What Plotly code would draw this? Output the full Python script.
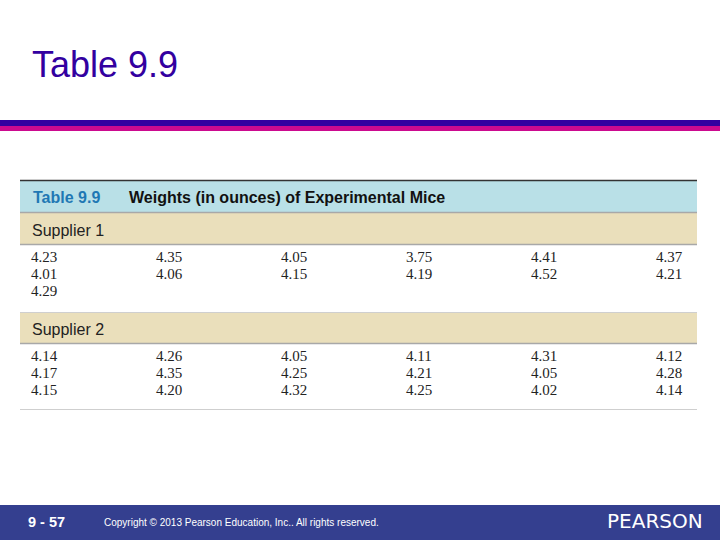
import plotly.graph_objects as go

# %%
supplier1 = [
    [4.23, 4.35, 4.05, 3.75, 4.41, 4.37],
    [4.01, 4.06, 4.15, 4.19, 4.52, 4.21],
    [4.29],
]
supplier2 = [
    [4.14, 4.26, 4.05, 4.11, 4.31, 4.12],
    [4.17, 4.35, 4.25, 4.21, 4.05, 4.28],
    [4.15, 4.20, 4.32, 4.25, 4.02, 4.14],
]
group_labels = ["Supplier 1", "Supplier 2"]
table_label = "Table 9.9"
table_caption = "Weights (in ounces) of Experimental Mice"

# %%
col_x = [31 + 125 * k for k in range(6)]
row_gap = 17


def block(rows, y0):
    xs, ys, ts = [], [], []
    for r, row in enumerate(rows):
        for c, v in enumerate(row):
            xs.append(col_x[c])
            ys.append(y0 + r * row_gap)
            ts.append(f"{v:.2f}")
    return xs, ys, ts


x1, y1, t1 = block(supplier1, 258)
x2, y2, t2 = block(supplier2, 357)

num_font = dict(family="Liberation Serif", size=15, color="#222")
fig = go.Figure()
fig.add_trace(go.Scatter(x=x1 + x2, y=y1 + y2, text=t1 + t2, mode="text",
                         textposition="middle right", textfont=num_font,
                         hoverinfo="skip", showlegend=False))

shapes = [
    # title rules
    dict(type="rect", x0=0, x1=720, y0=120, y1=126, fillcolor="#3300a0", line_width=0),
    dict(type="rect", x0=0, x1=720, y0=126, y1=131, fillcolor="#cc0a8f", line_width=0),
    # table header
    dict(type="rect", x0=20, x1=697, y0=181, y1=212, fillcolor="#b9e0e7", line_width=0),
    dict(type="rect", x0=20, x1=697, y0=213, y1=244, fillcolor="#eadfbb", line_width=0),
    dict(type="rect", x0=20, x1=697, y0=313, y1=343, fillcolor="#eadfbb", line_width=0),
    dict(type="line", x0=20, x1=697, y0=180.5, y1=180.5, line=dict(color="#333", width=1.5)),
    dict(type="line", x0=20, x1=697, y0=212.5, y1=212.5, line=dict(color="#a8a8a8", width=1.5)),
    dict(type="line", x0=20, x1=697, y0=244.5, y1=244.5, line=dict(color="#a8a8a8", width=1.5)),
    dict(type="line", x0=20, x1=697, y0=312.5, y1=312.5, line=dict(color="#cfcfcf", width=1)),
    dict(type="line", x0=20, x1=697, y0=343.5, y1=343.5, line=dict(color="#a8a8a8", width=1.5)),
    dict(type="line", x0=20, x1=697, y0=409.5, y1=409.5, line=dict(color="#cfcfcf", width=1)),
    # footer
    dict(type="rect", x0=0, x1=720, y0=505, y1=540, fillcolor="#343f8f", line_width=0),
]

ann = [
    dict(x=30, y=64, text="Table 9.9", xanchor="left", yanchor="middle",
         font=dict(family="Liberation Sans", size=36, color="#3300a0")),
    dict(x=31, y=197, text=f"<b>{table_label}</b>", xanchor="left", yanchor="middle",
         font=dict(family="Liberation Sans", size=16, color="#1f78b4")),
    dict(x=127, y=197, text=f"<b>{table_caption}</b>", xanchor="left", yanchor="middle",
         font=dict(family="Liberation Sans", size=16, color="#111")),
    dict(x=30, y=230, text=group_labels[0], xanchor="left", yanchor="middle",
         font=dict(family="Liberation Sans", size=16, color="#222")),
    dict(x=30, y=329, text=group_labels[1], xanchor="left", yanchor="middle",
         font=dict(family="Liberation Sans", size=16, color="#222")),
    dict(x=26, y=522, text="<b>9 - 57</b>", xanchor="left", yanchor="middle",
         font=dict(family="Liberation Sans", size=14.5, color="white")),
    dict(x=102, y=522, text="Copyright © 2013 Pearson Education, Inc.. All rights reserved.",
         xanchor="left", yanchor="middle",
         font=dict(family="Liberation Sans", size=10, color="white")),
    dict(x=705, y=521, text="PEARSON", xanchor="right", yanchor="middle",
         font=dict(family="DejaVu Sans", size=20, color="white")),
]
for a in ann:
    a.update(xref="x", yref="y", showarrow=False)

fig.update_layout(
    width=720, height=540,
    margin=dict(l=0, r=0, t=0, b=0),
    paper_bgcolor="white", plot_bgcolor="white",
    xaxis=dict(range=[0, 720], visible=False, fixedrange=True),
    yaxis=dict(range=[540, 0], visible=False, fixedrange=True),
    shapes=shapes, annotations=ann,
)

fig.write_html("out.html", config=dict(displayModeBar=False),
               post_script="document.body.style.margin='0px';")
